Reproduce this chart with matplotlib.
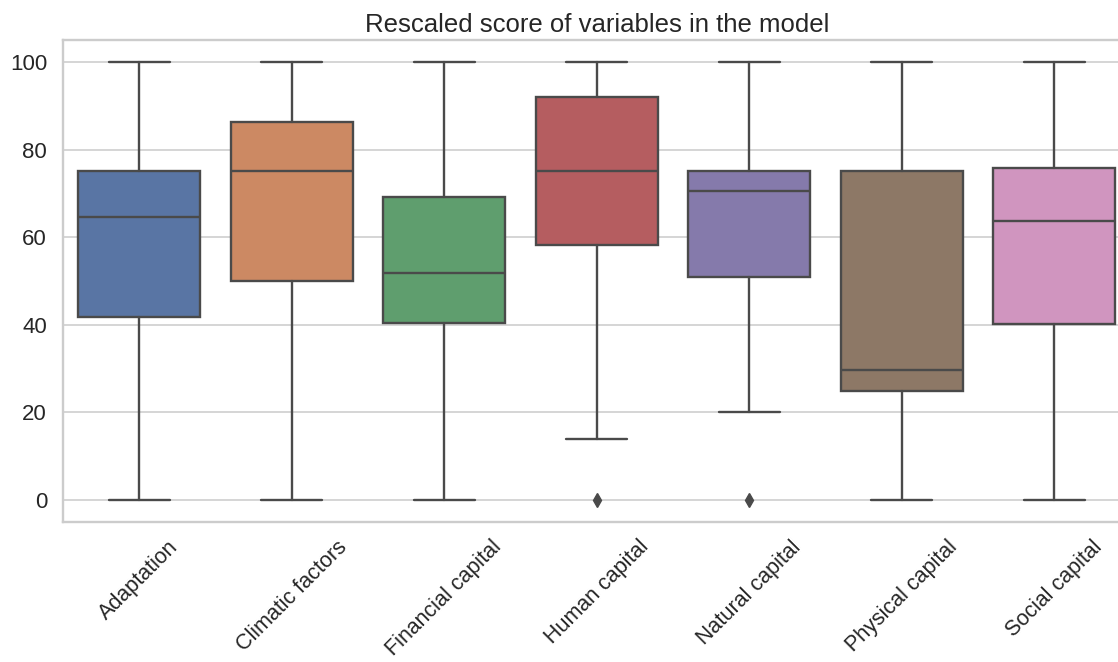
import matplotlib
matplotlib.use("Agg")
import matplotlib.pyplot as plt
import seaborn as sns

categories = ["Adaptation", "Climatic factors", "Financial capital", "Human capital",
              "Natural capital", "Physical capital", "Social capital"]
q1 = [41.8, 50.0, 40.4, 58.3, 51.0, 24.9, 40.3]
medians = [64.7, 75.0, 51.9, 75.0, 70.6, 29.8, 63.8]
q3 = [75.0, 86.4, 69.2, 92.1, 75.0, 75.0, 75.7]
whisker_low = [0.0, 0.0, 0.0, 13.9, 20.2, 0.0, 0.0]
whisker_high = [100.0, 100.0, 100.0, 100.0, 100.0, 100.0, 100.0]
outliers = [[], [], [], [0.0], [0.0], [], []]
yticks = [0, 20, 40, 60, 80, 100]

sns.set_theme(style="whitegrid")
plt.rcParams["font.family"] = ["Liberation Sans", "DejaVu Sans"]

palette = [sns.desaturate(c, 0.75) for c in sns.color_palette("deep", len(categories))]
edge = "#4a4a4a"
lw = 1.7

fig = plt.figure(figsize=(11.18, 6.62), dpi=100)
ax = fig.add_axes([63 / 1118, 1 - 522 / 662, (1130.5 - 63) / 1118, 482 / 662])

stats = []
for i, name in enumerate(categories):
    stats.append(dict(label=name, q1=q1[i], med=medians[i], q3=q3[i],
                      whislo=whisker_low[i], whishi=whisker_high[i],
                      fliers=outliers[i]))

positions = list(range(len(categories)))
parts = ax.bxp(stats, positions=positions, widths=0.8, patch_artist=True,
               showfliers=True,
               boxprops=dict(edgecolor=edge, linewidth=lw),
               medianprops=dict(color=edge, linewidth=lw),
               whiskerprops=dict(color=edge, linewidth=lw),
               capprops=dict(color=edge, linewidth=lw),
               flierprops=dict(marker="d", markerfacecolor=edge, markeredgecolor=edge,
                               markersize=7, linestyle="none"),
               capwidths=0.4)
for patch, color in zip(parts["boxes"], palette):
    patch.set_facecolor(color)

ax.set_xlim(-0.5, len(categories) - 0.5)
ax.set_ylim(-5, 105)
ax.set_yticks(yticks)
ax.set_xticks(positions)
ax.set_xticklabels(categories, rotation=45, ha="center")
ax.xaxis.grid(False)
ax.yaxis.grid(True, color="#d5d5d5", linewidth=1.4)
ax.set_axisbelow(True)
for s in ax.spines.values():
    s.set_color("#cccccc")
    s.set_linewidth(1.7)
ax.tick_params(axis="y", length=0, pad=11.5, labelsize=16, labelcolor="#262626")
ax.tick_params(axis="x", length=0, pad=10.5, labelsize=15.5, labelcolor="#262626")
ax.set_title("Rescaled score of variables in the model", fontsize=18.5, color="#262626", pad=6)

fig.savefig("out.png", dpi=100)
